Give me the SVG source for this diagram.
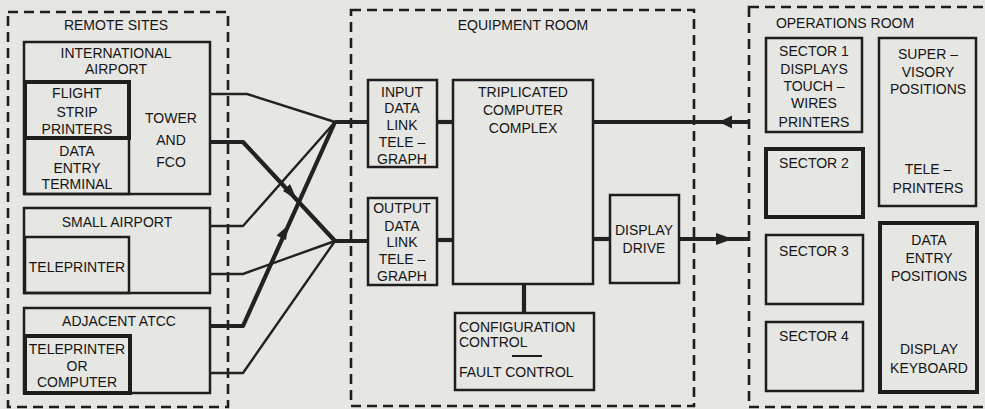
<svg xmlns="http://www.w3.org/2000/svg" width="985" height="409" viewBox="0 0 985 409">
<style>
.bg{fill:#e6e6e3}
.room{fill:none;stroke:#1e1e1e;stroke-width:2.6;stroke-dasharray:10 6}
.box{fill:none;stroke:#1e1e1e;stroke-width:2.5}
.thick{fill:none;stroke:#1e1e1e;stroke-width:4}
.t{font-family:"Liberation Sans",Arial,sans-serif;font-size:14px;fill:#151515;text-anchor:middle}
.l{text-anchor:start}
.w{fill:none;stroke:#222;stroke-width:2.4;stroke-linejoin:round}
.W{fill:none;stroke:#222;stroke-width:4.2;stroke-linejoin:round}
.ah{fill:#222}
</style>
<rect class="bg" x="0" y="0" width="985" height="409"/>

<g id="remote-sites">
<rect class="room" x="8" y="12" width="220" height="395"/>
<text class="t" x="116" y="30">REMOTE SITES</text>
</g>
<g id="international-airport">
<rect class="box" x="24" y="42" width="186" height="152"/>
<text class="t" x="116" y="58">INTERNATIONAL</text>
<text class="t" x="116" y="74">AIRPORT</text>
<text class="t" x="171" y="123">TOWER</text>
<text class="t" x="171" y="145">AND</text>
<text class="t" x="171" y="167">FCO</text>
</g>
<g id="flight-strip-printers">
<rect class="thick" x="25" y="82" width="104" height="56"/>
<text class="t" x="77" y="98">FLIGHT</text>
<text class="t" x="77" y="117">STRIP</text>
<text class="t" x="77" y="134">PRINTERS</text>
</g>
<g id="data-entry-terminal">
<rect class="box" x="25" y="138" width="104" height="56"/>
<text class="t" x="77" y="156">DATA</text>
<text class="t" x="77" y="173">ENTRY</text>
<text class="t" x="77" y="189">TERMINAL</text>
</g>
<g id="small-airport">
<rect class="box" x="24" y="208" width="186" height="85"/>
<text class="t" x="117" y="227">SMALL AIRPORT</text>
</g>
<g id="teleprinter-small">
<rect class="box" x="25" y="237" width="104" height="56"/>
<text class="t" x="77" y="272">TELEPRINTER</text>
</g>
<g id="adjacent-atcc">
<rect class="box" x="24" y="308" width="186" height="85"/>
<text class="t" x="119" y="326">ADJACENT ATCC</text>
</g>
<g id="teleprinter-or-computer">
<rect class="thick" x="25" y="336" width="105" height="57"/>
<text class="t" x="77" y="354">TELEPRINTER</text>
<text class="t" x="77" y="371">OR</text>
<text class="t" x="77" y="387">COMPUTER</text>
</g>

<g id="equipment-room">
<rect class="room" x="351" y="10" width="343" height="396"/>
<text class="t" x="523" y="30">EQUIPMENT ROOM</text>
</g>
<g id="input-telegraph">
<rect class="box" x="368" y="80" width="69" height="87"/>
<text class="t" x="402" y="97">INPUT</text>
<text class="t" x="402" y="113">DATA</text>
<text class="t" x="402" y="130">LINK</text>
<text class="t" x="402" y="147">TELE –</text>
<text class="t" x="402" y="164">GRAPH</text>
</g>
<g id="output-telegraph">
<rect class="box" x="368" y="198" width="69" height="87"/>
<text class="t" x="402" y="213">OUTPUT</text>
<text class="t" x="402" y="231">DATA</text>
<text class="t" x="402" y="247">LINK</text>
<text class="t" x="402" y="264">TELE –</text>
<text class="t" x="402" y="281">GRAPH</text>
</g>
<g id="computer-complex">
<rect class="box" x="453" y="80" width="140" height="204"/>
<text class="t" x="523" y="97">TRIPLICATED</text>
<text class="t" x="523" y="115">COMPUTER</text>
<text class="t" x="523" y="133">COMPLEX</text>
</g>
<g id="display-drive">
<rect class="box" x="610" y="195" width="69" height="88"/>
<text class="t" x="644" y="235">DISPLAY</text>
<text class="t" x="644" y="253">DRIVE</text>
</g>
<g id="configuration-control">
<rect class="box" x="455" y="313" width="139" height="77"/>
<text class="t l" x="459" y="332">CONFIGURATION</text>
<text class="t l" x="459" y="347">CONTROL</text>
<line x1="512" y1="356" x2="542" y2="356" stroke="#1e1e1e" stroke-width="2"/>
<text class="t l" x="459" y="377">FAULT CONTROL</text>
</g>

<g id="operations-room">
<rect class="room" x="749" y="7" width="245" height="400"/>
<text class="t" x="845" y="28">OPERATIONS ROOM</text>
</g>
<g id="sector-1">
<rect class="box" x="766" y="38" width="96" height="94" stroke-width="3"/>
<text class="t" x="814" y="56">SECTOR 1</text>
<text class="t" x="814" y="74">DISPLAYS</text>
<text class="t" x="814" y="91">TOUCH –</text>
<text class="t" x="814" y="108">WIRES</text>
<text class="t" x="814" y="127">PRINTERS</text>
</g>
<g id="sector-2">
<rect class="thick" x="766" y="149" width="97" height="68"/>
<text class="t" x="814" y="168">SECTOR 2</text>
</g>
<g id="sector-3">
<rect class="box" x="766" y="235" width="97" height="69"/>
<text class="t" x="814" y="256">SECTOR 3</text>
</g>
<g id="sector-4">
<rect class="box" x="766" y="322" width="97" height="69"/>
<text class="t" x="814" y="341">SECTOR 4</text>
</g>
<g id="supervisory-positions">
<rect class="box" x="879" y="38" width="97" height="168" stroke-width="3"/>
<text class="t" x="928" y="59">SUPER –</text>
<text class="t" x="928" y="77">VISORY</text>
<text class="t" x="928" y="94">POSITIONS</text>
<text class="t" x="928" y="174">TELE –</text>
<text class="t" x="928" y="193">PRINTERS</text>
</g>
<g id="data-entry-positions">
<rect class="thick" x="880" y="223" width="97" height="169"/>
<text class="t" x="929" y="245">DATA</text>
<text class="t" x="929" y="263">ENTRY</text>
<text class="t" x="929" y="281">POSITIONS</text>
<text class="t" x="929" y="354">DISPLAY</text>
<text class="t" x="929" y="373">KEYBOARD</text>
</g>

<g id="connectors">
<polyline class="w" points="210,94 247,94 335,122"/>
<polyline class="W" points="210,142 243,142 335,241"/>
<polyline class="w" points="210,226 243,226 335,122"/>
<polyline class="w" points="210,274 243,274 335,241"/>
<polyline class="W" points="210,326 243,326 335,122"/>
<polyline class="w" points="210,373 243,373 335,241"/>
<line class="W" x1="335" y1="122" x2="368" y2="122"/>
<line class="W" x1="335" y1="241" x2="368" y2="241"/>
<line class="W" x1="437" y1="122" x2="453" y2="122"/>
<line class="W" x1="437" y1="240" x2="453" y2="240"/>
<line class="W" x1="593" y1="239" x2="610" y2="239"/>
<line class="W" x1="524" y1="284" x2="524" y2="313"/>
<line class="W" x1="593" y1="122" x2="749" y2="122"/>
<line class="W" x1="679" y1="239" x2="749" y2="239"/>
<polygon class="ah" points="719,122 732,115.5 732,128.5"/>
<polygon class="ah" points="733,239 716,233 716,245"/>
<polygon class="ah" points="288.5,225 286,240 276.5,235.5"/>
<polygon class="ah" points="297,200 283,191 290,184"/>
</g>
</svg>
